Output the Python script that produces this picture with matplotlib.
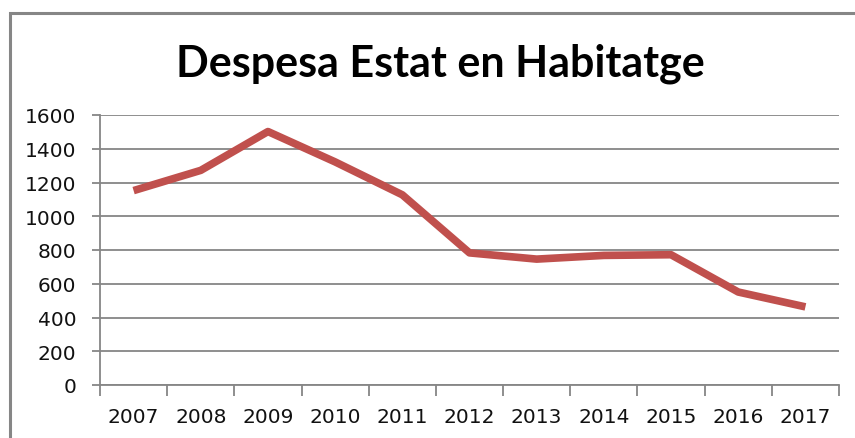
import matplotlib
matplotlib.use("Agg")
import matplotlib.pyplot as plt
from matplotlib.patches import Rectangle

years = ["2007", "2008", "2009", "2010", "2011", "2012",
         "2013", "2014", "2015", "2016", "2017"]
despesa = [1152, 1272, 1502, 1322, 1127, 783, 746, 768, 772, 551, 463]
yticks = [0, 200, 400, 600, 800, 1000, 1200, 1400, 1600]

W, H = 855, 439
fig = plt.figure(figsize=(W / 100, H / 100), dpi=100)
grey = "#868686"

# chart frame (cut off at right and bottom as in the original)
fig.patches.append(Rectangle((9.5 / W, -0.1), 1.2, 1.1 - 13.5 / H,
                             transform=fig.transFigure, fill=False,
                             edgecolor=grey, linewidth=2.2))

ax = fig.add_axes([100 / W, 1 - 386 / H, 739 / W, 270 / H])
x = list(range(len(years)))
ax.plot(x, despesa, color="#C0504D", linewidth=5.5, solid_capstyle="butt",
        solid_joinstyle="round")

ax.set_xlim(-0.5, len(years) - 0.5)
ax.set_ylim(0, 1600)
ax.set_yticks(yticks)
ax.set_xticks(x)
ax.set_xticklabels(years)
ax.set_xticks([i - 0.5 for i in range(len(years) + 1)], minor=True)

ax.grid(axis="y", color=grey, linewidth=1.3)
ax.set_axisbelow(True)
for s in ["top", "right"]:
    ax.spines[s].set_visible(False)
for s in ["left", "bottom"]:
    ax.spines[s].set_color(grey)
    ax.spines[s].set_linewidth(1.3)

ax.tick_params(axis="y", length=6, width=1.3, color=grey, pad=11,
               labelsize=14.5, labelcolor="#111111")
ax.tick_params(axis="x", which="major", length=0, pad=16,
               labelsize=14.5, labelcolor="#111111")
ax.tick_params(axis="x", which="minor", length=8, width=1.3, color=grey)

fig.text(440 / W, 1 - 77 / H, "Despesa Estat en Habitatge", ha="center",
         va="baseline", fontsize=31, fontweight="bold", family="Lato")

fig.savefig("out.png", dpi=100)
